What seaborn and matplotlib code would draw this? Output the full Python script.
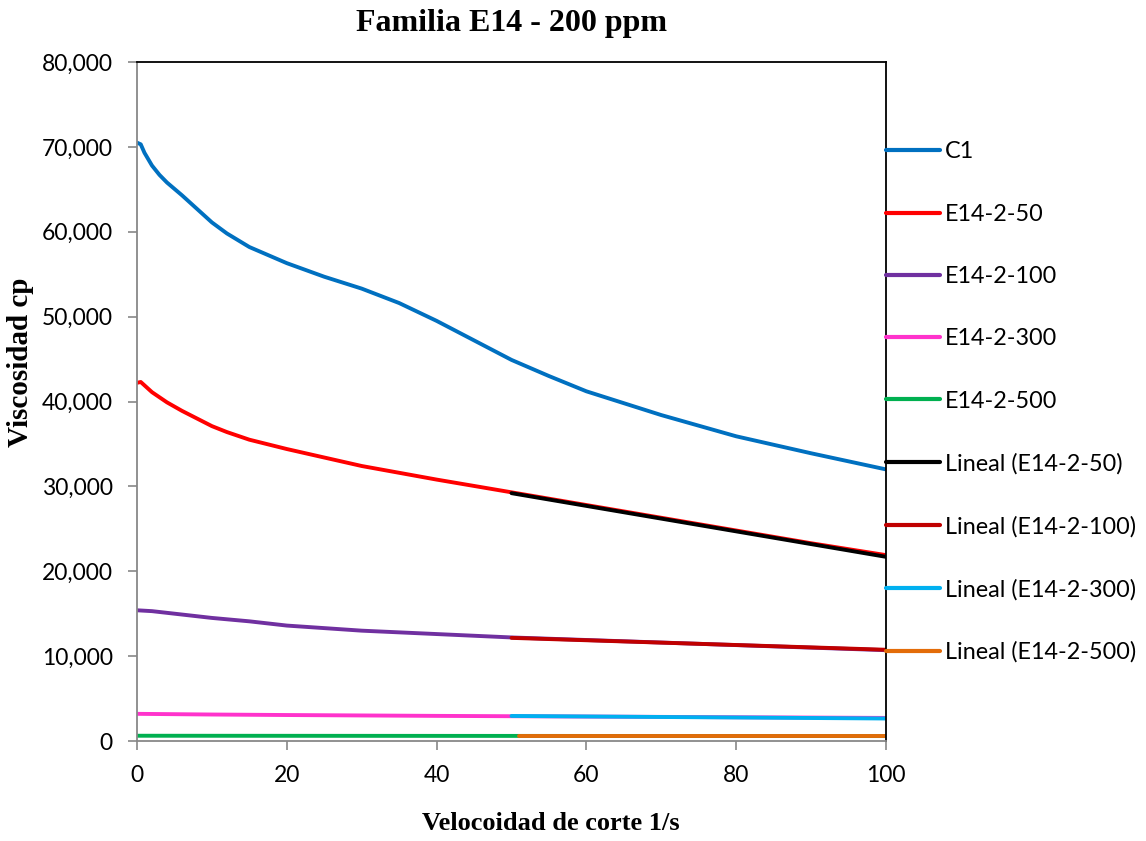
import matplotlib
matplotlib.use("Agg")
import matplotlib.pyplot as plt
import matplotlib.ticker as mticker
import seaborn as sns
import pandas as pd

# ---- data ----
x_c1 = [0, 0.5, 1, 2, 3, 4, 6, 8, 10, 12, 15, 20, 25, 30, 35, 40, 45, 50, 55, 60, 70, 80, 90, 100]
y_c1 = [70500, 70300, 69300, 67800, 66700, 65800, 64300, 62700, 61100, 59800, 58200, 56300, 54700, 53300, 51600, 49500, 47200, 44900, 43000, 41200, 38400, 35900, 33900, 32000]

x_50 = [0, 0.5, 1, 2, 4, 6, 8, 10, 12, 15, 20, 25, 30, 40, 50, 60, 70, 80, 90, 100]
y_50 = [42200, 42300, 41900, 41100, 39900, 38900, 38000, 37100, 36400, 35500, 34400, 33400, 32400, 30800, 29300, 27800, 26300, 24800, 23300, 21900]

x_100 = [0, 2, 5, 10, 15, 20, 30, 40, 50, 60, 70, 80, 90, 100]
y_100 = [15400, 15300, 15000, 14500, 14100, 13600, 13000, 12600, 12200, 11900, 11600, 11300, 11000, 10700]

x_300 = [0, 10, 20, 30, 40, 50, 60, 70, 80, 90, 100]
y_300 = [3200, 3120, 3060, 3010, 2960, 2920, 2880, 2840, 2800, 2760, 2720]

x_500 = [0, 25, 50, 75, 100]
y_500 = [620, 610, 600, 590, 580]

x_lin50 = [50, 100]
y_lin50 = [29200, 21700]
x_lin100 = [50, 100]
y_lin100 = [12150, 10750]
x_lin300 = [50, 100]
y_lin300 = [2950, 2650]
x_lin500 = [51, 100]
y_lin500 = [560, 560]

labels = ["C1", "E14-2-50", "E14-2-100", "E14-2-300", "E14-2-500",
          "Lineal (E14-2-50)", "Lineal (E14-2-100)", "Lineal (E14-2-300)", "Lineal (E14-2-500)"]
colors = ["#0070C0", "#FF0000", "#7030A0", "#FF33CC", "#00B050",
          "#000000", "#C00000", "#00B0F0", "#E36C09"]
series = [(x_c1, y_c1), (x_50, y_50), (x_100, y_100), (x_300, y_300), (x_500, y_500),
          (x_lin50, y_lin50), (x_lin100, y_lin100), (x_lin300, y_lin300), (x_lin500, y_lin500)]

sns.set_style("white")
plt.rcParams['font.family'] = ['Lato', 'DejaVu Sans']
for k in ["text.color", "axes.labelcolor", "xtick.color", "ytick.color"]:
    plt.rcParams[k] = "black"

fig = plt.figure(figsize=(11.46, 8.41), dpi=100)
ax = fig.add_axes([137/1146, 1-741/841, (886-137)/1146, (741-62)/841])

for (xs, ys), lab, col in zip(series, labels, colors):
    df = pd.DataFrame({"x": xs, "y": ys})
    sns.lineplot(data=df, x="x", y="y", ax=ax, color=col, label=lab,
                 linewidth=2.8, solid_capstyle="round")

ax.set_xlim(0, 100)
ax.set_ylim(0, 80000)
ax.set_xticks([0, 20, 40, 60, 80, 100])
ax.set_yticks(range(0, 80001, 10000))
ax.yaxis.set_major_formatter(mticker.FuncFormatter(lambda v, p: f"{int(v):,}"))
ax.tick_params(axis="both", labelsize=16.5, labelcolor="black", direction="out",
               length=6.5, width=1.2, color="#888888", pad=11, left=True, bottom=True)

for side in ["left", "bottom"]:
    ax.spines[side].set_color("#888888")
    ax.spines[side].set_linewidth(1.3)
for side in ["top", "right"]:
    ax.spines[side].set_color("#000000")
    ax.spines[side].set_linewidth(1.3)

ax.set_title("Familia E14 - 200 ppm", fontfamily="Liberation Serif", fontweight="bold",
             fontsize=23, pad=22, color="black")
ax.set_xlabel("Velocoidad de corte 1/s", fontfamily="Liberation Serif", fontweight="bold",
              fontsize=19, color="black")
ax.set_ylabel("Viscosidad cp", fontfamily="Liberation Serif", fontweight="bold",
              fontsize=21, color="black")
ax.xaxis.set_label_coords(0.553, -0.105)
ax.yaxis.set_label_coords(-0.137, 0.558)

leg = ax.legend(loc="center left", bbox_to_anchor=(1.0, 0.499), frameon=False,
                fontsize=16.8, handlelength=2.31, handletextpad=0.21,
                labelspacing=1.77, borderaxespad=0, borderpad=0)
for h in leg.get_lines():
    h.set_linewidth(3.0)

fig.savefig("out.png", dpi=100)
